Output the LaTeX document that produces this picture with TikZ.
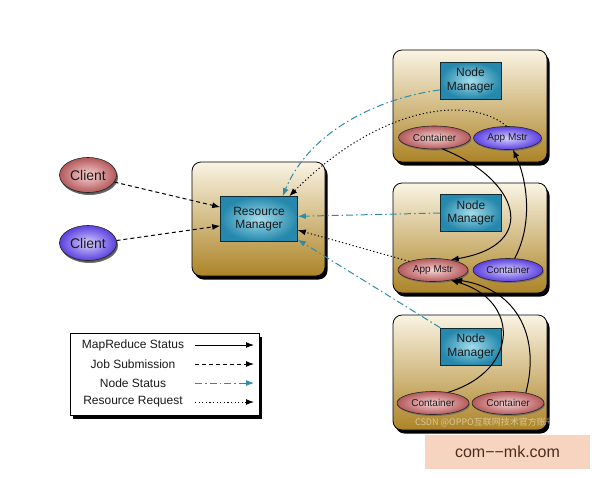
\documentclass[tikz,border=0pt]{standalone}
\usepackage{fontspec}
\setmainfont{Liberation Sans}
\newfontfamily\cjk{Noto Sans CJK SC}
\usetikzlibrary{arrows.meta,shadows,shapes.geometric}
\definecolor{tealc}{HTML}{2F8CA8}
\definecolor{tealin}{HTML}{A4DDEC}
\definecolor{tealout}{HTML}{2588AC}
\definecolor{goldA}{HTML}{FAF4E4}
\definecolor{goldB}{HTML}{D8BB72}
\definecolor{goldC}{HTML}{AC8427}
\definecolor{redin}{HTML}{F7D3D3}
\definecolor{redout}{HTML}{B4595B}
\definecolor{bluein}{HTML}{D6D0FF}
\definecolor{blueout}{HTML}{5C40DE}
\definecolor{peach}{HTML}{F6D4BF}
\definecolor{brownt}{HTML}{4B2E1E}
\definecolor{txt}{HTML}{1A1A1A}
\begin{document}
\begin{tikzpicture}[x=1pt,y=-1pt,
  goldbox/.style={rectangle, rounded corners=9pt, draw=black, line width=0.8pt,
    top color=goldA, middle color=goldB, bottom color=goldC,
    drop shadow={shadow xshift=2.5pt, shadow yshift=-3.5pt, fill=black, opacity=1},
    minimum width=154pt, inner sep=0pt},
  mgrbox/.style={rectangle, draw=black!70!tealc, line width=0.6pt,
    inner color=tealin, outer color=tealout, align=center,
    font=\fontsize{12}{13.5}\selectfont, text=txt, inner sep=0pt},
  redell/.style={ellipse, draw=black!85, line width=0.6pt,
    inner color=redin, outer color=redout,
    minimum width=72pt, minimum height=23pt, inner sep=0pt,
    font=\fontsize{10}{12}\selectfont, text=txt,
    drop shadow={shadow xshift=1pt, shadow yshift=-1.5pt, fill=black!60, opacity=0.7}},
  blueell/.style={redell, inner color=bluein, outer color=blueout},
  conn/.style={line width=1pt, -{Latex[length=8pt,width=6pt]}},
  jobline/.style={conn, dash pattern=on 4pt off 3pt},
  nodeline/.style={conn, tealc, dash pattern=on 7pt off 3pt on 1.5pt off 3pt},
  reqline/.style={conn, dash pattern=on 1.2pt off 2.4pt},
  mrline/.style={conn},
  legtext/.style={font=\fontsize{12}{13}\selectfont, text=txt}]
\useasboundingbox (0,0) rectangle (600,480);

% Resource manager
\node[goldbox, minimum width=133pt, minimum height=114pt] (rmbox) at (258.5,219) {};
\node[mgrbox, minimum width=77pt, minimum height=45pt] (rm) at (259,219) {Resource\\Manager};

% Node manager boxes
\node[goldbox, minimum height=112pt] (nmbox1) at (470,106) {};
\node[goldbox, minimum height=110pt] (nmbox2) at (470,238) {};
\node[goldbox, minimum height=115pt] (nmbox3) at (470,372.5) {};

\node[mgrbox, minimum width=61pt, minimum height=37pt] (nm1) at (470.5,80.5) {Node\\Manager};
\node[mgrbox, minimum width=61pt, minimum height=37pt] (nm2) at (471,213) {Node\\Manager};
\node[mgrbox, minimum width=61pt, minimum height=37pt] (nm3) at (471,346.5) {Node\\Manager};

\node[redell] (ct1) at (434.5,137.5) {Container};
\node[blueell, minimum width=68pt] (am1) at (507.5,138) {App Mstr};
\node[redell, minimum width=70pt] (am2) at (433,270) {App Mstr};
\node[blueell, minimum width=70pt] (cn2) at (508,270) {Container};
\node[redell] (ct3a) at (433,403) {Container};
\node[redell] (ct3b) at (508,403) {Container};

\node[font=\fontsize{9}{10}\selectfont\cjk, text=white, opacity=0.5] (wm) at (485,422) {CSDN @OPPO互联网技术官方账号};

% Clients
\node[redell, minimum width=57pt, minimum height=35pt, font=\fontsize{14}{16}\selectfont,
  drop shadow={shadow xshift=1.5pt, shadow yshift=-2.5pt, fill=black!70, opacity=0.8}] (c1) at (88,175) {Client};
\node[blueell, minimum width=57pt, minimum height=35pt, font=\fontsize{14}{16}\selectfont,
  drop shadow={shadow xshift=1.5pt, shadow yshift=-2.5pt, fill=black!70, opacity=0.8}] (c2) at (88,243) {Client};

% Job submission
\draw[jobline] (c1.-15) -- (rm.163);
\draw[jobline] (c2.5) -- (rm.190);

% Node status
\draw[nodeline] (nm1.197) .. controls (380,98) and (310,130) .. (rm.44);
\draw[nodeline] (nm2.west) -- (rm.4);
\draw[nodeline] (nm3.north west) -- (rm.-28);

% Resource request
\draw[reqline] (am1.95) .. controls (470,95) and (380,105) .. (rm.37);
\draw[reqline] (am2.160) -- (rm.-16);

% MapReduce status
\draw[mrline] (ct1.-55) .. controls (520,180) and (540,245) .. (am2.30);
\draw[mrline] (cn2.60) .. controls (535,220) and (525,175) .. (am1.-65);
\draw[mrline] (ct3a.35) .. controls (520,370) and (520,300) .. (am2.-30);
\draw[mrline] (ct3b.30) .. controls (540,340) and (520,290) .. (am2.-24);

% Legend
\node[rectangle, draw=black, line width=0.7pt, fill=white, minimum width=189pt, minimum height=82pt,
  drop shadow={shadow xshift=2.5pt, shadow yshift=-3.5pt, fill=black, opacity=1}] (legend) at (165,374) {};
\node[legtext] (lt1) at (133,345) {MapReduce Status};
\node[legtext] (lt2) at (133,364) {Job Submission};
\node[legtext] (lt3) at (133,383) {Node Status};
\node[legtext] (lt4) at (133,402) {Resource Request};
\coordinate (la1) at (195,345); \coordinate (lb1) at (254,345);
\coordinate (la2) at (195,364); \coordinate (lb2) at (254,364);
\coordinate (la3) at (195,383); \coordinate (lb3) at (254,383);
\coordinate (la4) at (195,402); \coordinate (lb4) at (254,402);
\draw[mrline] (la1) -- (lb1);
\draw[jobline] (la2) -- (lb2);
\draw[nodeline] (la3) -- (lb3);
\draw[reqline] (la4) -- (lb4);

% Watermark box
\node[rectangle, fill=peach, minimum width=165pt, minimum height=34pt,
  font=\fontsize{16}{18}\selectfont, text=brownt] (wbox) at (507.5,452) {com−−mk.com};
\end{tikzpicture}
\end{document}
